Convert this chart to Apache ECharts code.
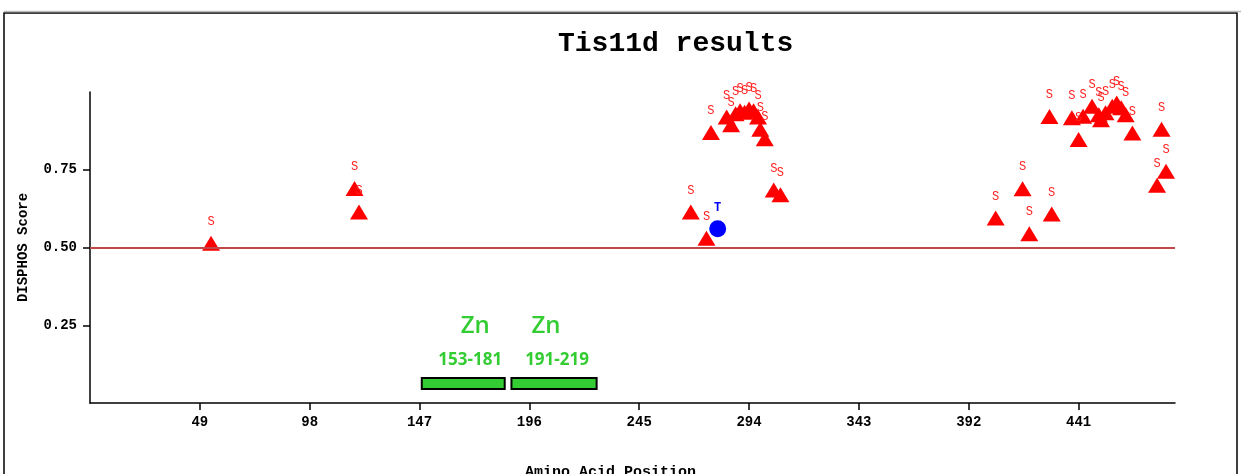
<!DOCTYPE html>
<html>
<head>
<meta charset="utf-8">
<script src="https://cdn.jsdelivr.net/npm/echarts@6/dist/echarts.min.js"></script>
<style>
html,body{margin:0;padding:0;background:#fff;}
#chart{width:1241px;height:474px;}
</style>
</head>
<body>
<div id="chart"></div>
<script>
// Serine sites (position, DISPHOS score)
const serinePos = [54, 118, 120, 268, 275, 277, 284, 286, 288, 290, 292, 294, 296, 298, 299, 301, 305, 308,
  404, 416, 419, 429, 428, 438, 441, 443, 447, 450, 451, 453, 456, 458, 460, 462, 465, 476, 478, 480];
const serineScore = [0.514, 0.69, 0.614, 0.614, 0.53, 0.87, 0.92, 0.895, 0.93, 0.94, 0.935, 0.945, 0.94, 0.92, 0.88, 0.85, 0.685, 0.67,
  0.595, 0.689, 0.544, 0.608, 0.921, 0.917, 0.847, 0.922, 0.954, 0.927, 0.911, 0.933, 0.954, 0.965, 0.949, 0.927, 0.868, 0.70, 0.88, 0.745];
// Threonine sites
const threoninePos = [280];
const threonineScore = [0.56];
// Axis ticks
const xTicks = [49, 98, 147, 196, 245, 294, 343, 392, 441];
const yTicks = [0.25, 0.5, 0.75];
const threshold = 0.5;
// Zinc finger domains
const znStart = [148, 188];
const znEnd = [185, 226];
const znName = ['Zn', 'Zn'];
const znRange = ['153-181', '191-219'];
const znLevel = 0.063;

const mono = '"Liberation Mono", "Courier New", monospace';
const chart = echarts.init(document.getElementById('chart'));

chart.setOption({
  animation: false,
  backgroundColor: '#fff',
  title: {
    text: 'Tis11d results',
    left: 553,
    top: 25,
    textStyle: {fontFamily: mono, fontWeight: 'bold', fontSize: 28, color: '#000'}
  },
  graphic: [{
    type: 'rect',
    shape: {x: 4, y: 13, width: 1233, height: 480},
    style: {fill: 'none', stroke: '#000', lineWidth: 1.5}
  }, {
    type: 'line',
    shape: {x1: 4, y1: 11.5, x2: 1241, y2: 11.5},
    style: {stroke: '#bbb', lineWidth: 1.5}
  }],
  grid: {left: 90, right: 66, top: 92, bottom: 71, containLabel: false, outerBoundsMode: 'none'},
  xAxis: {
    type: 'value', min: 0, max: 484,
    name: 'Amino Acid Position', nameLocation: 'middle', nameGap: 62,
    nameTextStyle: {fontFamily: mono, fontWeight: 'bold', fontSize: 15, color: '#000', padding: [0, 44, 0, 0]},
    axisLine: {show: true, onZero: false, lineStyle: {color: '#000', width: 1.5}},
    axisTick: {show: true, customValues: xTicks, length: 7, lineStyle: {color: '#000', width: 1.5}},
    axisLabel: {customValues: xTicks, margin: 12, fontFamily: mono, fontWeight: 'bold', fontSize: 14, color: '#000'},
    splitLine: {show: false}
  },
  yAxis: {
    type: 'value', min: 0, max: 1,
    name: 'DISPHOS Score', nameLocation: 'middle', nameGap: 60, nameRotate: 90,
    nameTextStyle: {fontFamily: mono, fontWeight: 'bold', fontSize: 14, color: '#000'},
    axisLine: {show: true, onZero: false, lineStyle: {color: '#000', width: 1.5}},
    axisTick: {show: true, customValues: yTicks, length: 7, lineStyle: {color: '#000', width: 1.5}},
    axisLabel: {customValues: yTicks, margin: 13, fontFamily: mono, fontWeight: 'bold', fontSize: 14, color: '#000',
      formatter: v => v.toFixed(2)},
    splitLine: {show: false}
  },
  series: [{
    type: 'custom',
    name: 'Zn domains',
    data: znStart.map((s, i) => [s, znEnd[i], znLevel, i]),
    renderItem: function (params, api) {
      const i = api.value(3);
      const p1 = api.coord([api.value(0), api.value(2)]);
      const p2 = api.coord([api.value(1), api.value(2)]);
      const cx = (p1[0] + p2[0]) / 2;
      return {
        type: 'group',
        children: [{
          type: 'rect',
          shape: {x: p1[0], y: p1[1] - 5.5, width: p2[0] - p1[0], height: 11},
          style: {fill: '#33cc33', stroke: '#000', lineWidth: 2}
        }, {
          type: 'text',
          style: {text: znName[i], x: cx + (i === 0 ? 12 : -8), y: p1[1] - 57, align: 'center', verticalAlign: 'middle',
            fill: '#33cc33', font: '600 24px "Open Sans", sans-serif'}
        }, {
          type: 'text',
          style: {text: znRange[i], x: cx + (i === 0 ? 7 : 3), y: p1[1] - 23, align: 'center', verticalAlign: 'middle',
            fill: '#33cc33', font: 'bold 17px "Open Sans", sans-serif'}
        }]
      };
    },
    z: 1
  }, {
    type: 'scatter',
    name: 'S',
    data: serinePos.map((p, i) => [p, serineScore[i]]),
    symbol: 'triangle',
    symbolSize: [18, 15],
    itemStyle: {color: '#ff0000', opacity: 1},
    label: {show: true, formatter: 'S', position: 'top', distance: 8,
      fontFamily: mono, fontSize: 12, color: '#ff2020'},
    markLine: {
      silent: true, symbol: 'none', label: {show: false},
      lineStyle: {color: '#c04848', width: 2, type: 'solid'},
      data: [{yAxis: threshold}]
    },
    z: 3
  }, {
    type: 'scatter',
    name: 'T',
    data: threoninePos.map((p, i) => [p, threonineScore[i]]),
    symbol: 'circle',
    symbolSize: 17,
    itemStyle: {color: '#0000ff', opacity: 1},
    label: {show: true, formatter: 'T', position: 'top', distance: 6,
      fontFamily: mono, fontWeight: 'bold', fontSize: 12, color: '#0000ff'},
    z: 4
  }]
});
</script>
</body>
</html>
